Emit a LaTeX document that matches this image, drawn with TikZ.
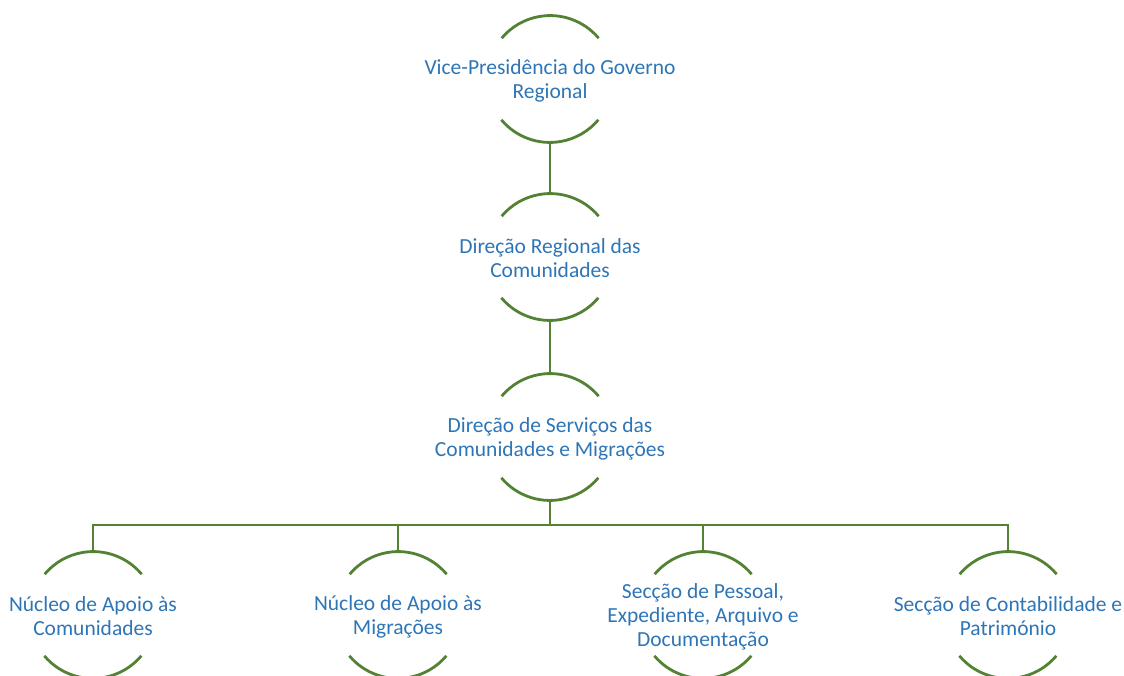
\documentclass[tikz,border=0pt]{standalone}
\usepackage{fontspec}
\setmainfont{Carlito}
\definecolor{lnk}{RGB}{84,130,53}
\definecolor{txt}{RGB}{46,117,182}
\begin{document}
\begin{tikzpicture}[x=1pt,y=-1pt,
  ring/.style={circle,draw=none,inner sep=0pt,minimum size=126.6pt},
  label/.style={text=txt,align=center,font=\fontsize{21.5}{24}\selectfont,yshift=-1.5pt},
  edge/.style={draw=lnk,line width=2.8pt},
  arcline/.style={draw=lnk,line width=2.8pt}]
\useasboundingbox (0,0) rectangle (1124,675);
% rings
\node[ring] (r1) at (550,79) {};
\node[ring] (r2) at (550,257) {};
\node[ring] (r3) at (550,437) {};
\node[ring] (r4) at (93,615) {};
\node[ring] (r5) at (398,615) {};
\node[ring] (r6) at (703,615) {};
\node[ring] (r7) at (1008,615) {};
\foreach \n in {r1,r2,r3,r4,r5,r6,r7}{
  \draw[arcline] (\n.40) arc[start angle=40,end angle=140,radius=63.3pt];
  \draw[arcline] (\n.220) arc[start angle=220,end angle=320,radius=63.3pt];
}
% labels
\node[label] (t1) at (r1) {Vice-Presidência do Governo\\Regional};
\node[label] (t2) at (r2) {Direção Regional das\\Comunidades};
\node[label] (t3) at (r3) {Direção de Serviços das\\Comunidades e Migrações};
\node[label] (t4) at (r4) {Núcleo de Apoio às\\Comunidades};
\node[label] (t5) at (r5) {Núcleo de Apoio às\\Migrações};
\node[label] (t6) at (r6) {Secção de Pessoal,\\Expediente, Arquivo e\\Documentação};
\node[label] (t7) at (r7) {Secção de Contabilidade e\\Património};
% connectors
\draw[edge] (r1.south) -- (r2.north);
\draw[edge] (r2.south) -- (r3.north);
\coordinate (bus) at (550,525);
\draw[edge] (r3.south) -- (bus);
\draw[edge,line cap=rect] (r4.north) |- (bus) -| (r7.north);
\draw[edge] (r5.north) -- (r5.north |- bus);
\draw[edge] (r6.north) -- (r6.north |- bus);
\end{tikzpicture}
\end{document}
